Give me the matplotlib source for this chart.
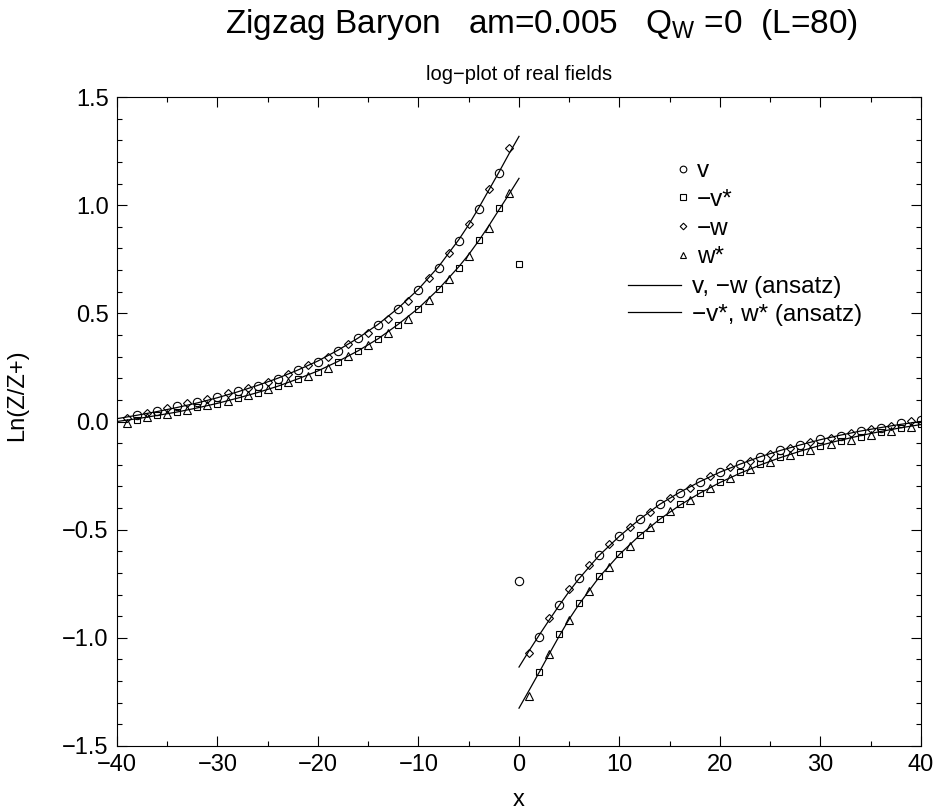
import numpy as np
import matplotlib
matplotlib.use('Agg')
import matplotlib.pyplot as plt
from matplotlib.ticker import MultipleLocator
from matplotlib.lines import Line2D

plt.rcParams['font.family'] = ['Liberation Sans', 'DejaVu Sans']
plt.rcParams['mathtext.fontset'] = 'custom'
plt.rcParams['mathtext.rm'] = 'Liberation Sans'

# data points, even sites (v, -v*) and odd sites (-w, w*)
even_x = np.arange(-38, 41, 2)
odd_x = np.arange(-39, 40, 2)

v_y = [0.030, 0.050, 0.071, 0.091, 0.113, 0.140, 0.166, 0.197, 0.236, 0.276,
       0.327, 0.384, 0.446, 0.518, 0.608, 0.711, 0.834, 0.981, 1.150,
       -0.737,
       -0.994, -0.848, -0.722, -0.617, -0.529, -0.452, -0.380, -0.329, -0.278, -0.235,
       -0.196, -0.163, -0.132, -0.109, -0.081, -0.066, -0.044, -0.029, -0.008, 0.007]
mvs_y = [0.008, 0.029, 0.044, 0.066, 0.081, 0.109, 0.132, 0.163, 0.196, 0.230,
         0.276, 0.327, 0.380, 0.446, 0.518, 0.611, 0.711, 0.839, 0.988,
         0.728,
         -1.156, -0.983, -0.840, -0.714, -0.612, -0.524, -0.452, -0.383, -0.329, -0.278,
         -0.235, -0.196, -0.165, -0.139, -0.112, -0.090, -0.070, -0.050, -0.031, -0.013]
mw_y = [0.015, 0.040, 0.061, 0.085, 0.104, 0.131, 0.154, 0.184, 0.220, 0.262,
        0.300, 0.358, 0.410, 0.472, 0.558, 0.662, 0.777, 0.911, 1.073, 1.262,
        -1.070, -0.909, -0.776, -0.663, -0.567, -0.486, -0.417, -0.355, -0.309, -0.252,
        -0.212, -0.181, -0.150, -0.121, -0.093, -0.075, -0.055, -0.035, -0.019, 0.002]
ws_y = [-0.006, 0.019, 0.035, 0.055, 0.075, 0.093, 0.121, 0.150, 0.181, 0.212,
        0.246, 0.303, 0.354, 0.410, 0.472, 0.561, 0.657, 0.765, 0.896, 1.055,
        -1.268, -1.074, -0.917, -0.783, -0.671, -0.575, -0.489, -0.414, -0.363, -0.309,
        -0.263, -0.221, -0.185, -0.155, -0.132, -0.105, -0.086, -0.062, -0.044, -0.024]

# ansatz curves (left and right of the source)
fit_x_left = [-40, -38, -36, -34, -32, -30, -28, -26, -24, -22, -20, -18, -16, -14,
              -12, -10, -8, -6, -5, -4, -3, -2, -1, 0]
fit_x_right = [0, 1, 2, 3, 4, 5, 6, 8, 10, 12, 14, 16, 18, 20, 22, 24, 26, 28, 30,
               32, 34, 36, 38, 40]
fit_a_left = [0.013, 0.029, 0.046, 0.065, 0.086, 0.110, 0.137, 0.167, 0.200, 0.238,
              0.280, 0.330, 0.386, 0.450, 0.525, 0.612, 0.716, 0.840, 0.910, 0.988,
              1.070, 1.152, 1.237, 1.318]
fit_a_right = [-1.135, -1.060, -0.988, -0.918, -0.850, -0.785, -0.725, -0.618, -0.530,
               -0.452, -0.383, -0.327, -0.278, -0.234, -0.197, -0.163, -0.134, -0.108,
               -0.084, -0.063, -0.044, -0.028, -0.013, 0.0]
fit_b_left = [0.0, 0.013, 0.028, 0.044, 0.063, 0.084, 0.108, 0.134, 0.163, 0.197,
              0.234, 0.278, 0.327, 0.383, 0.450, 0.524, 0.612, 0.715, 0.772, 0.836,
              0.905, 0.978, 1.050, 1.124]
fit_b_right = [-1.325, -1.243, -1.160, -1.075, -0.992, -0.913, -0.843, -0.718, -0.614,
               -0.527, -0.452, -0.387, -0.331, -0.282, -0.239, -0.201, -0.167, -0.137,
               -0.110, -0.086, -0.065, -0.046, -0.029, -0.014]

fig = plt.figure(figsize=(9.37, 8.11), dpi=100)
ax = fig.add_axes([117/937, 1 - 746/811, (921 - 117)/937, (746 - 97)/811])

lw = 0.9
mk = dict(ls='none', mfc='none', mec='black', mew=0.8)
ax.plot(even_x, v_y, marker='o', ms=6, **mk)
ax.plot(even_x, mvs_y, marker='s', ms=5, **mk)
ax.plot(odd_x, mw_y, marker='D', ms=4.2, **mk)
ax.plot(odd_x, ws_y, marker='^', ms=5.8, **mk)

ax.plot(fit_x_left, fit_a_left, color='black', lw=lw)
ax.plot(fit_x_right, fit_a_right, color='black', lw=lw)
ax.plot(fit_x_left, fit_b_left, color='black', lw=lw)
ax.plot(fit_x_right, fit_b_right, color='black', lw=lw)

ax.set_xlim(-40, 40)
ax.set_ylim(-1.5, 1.5)
ax.xaxis.set_major_locator(MultipleLocator(10))
ax.xaxis.set_minor_locator(MultipleLocator(5))
ax.yaxis.set_major_locator(MultipleLocator(0.5))
ax.yaxis.set_minor_locator(MultipleLocator(0.1))
ax.tick_params(which='both', direction='in', top=True, right=True, width=0.8,
               labelsize=17)
ax.tick_params(which='major', length=7, pad=6)
ax.tick_params(which='minor', length=3.5)
for s in ax.spines.values():
    s.set_linewidth(0.8)

# legends: symbols, then ansatz lines
sym_handles = [Line2D([], [], marker=m, ms=s, **mk)
               for m, s in [('o', 6), ('s', 5), ('D', 4.2), ('^', 5.8)]]
leg1 = ax.legend(sym_handles, ['v', '\u2212v*', '\u2212w', 'w*'],
                 loc='upper left', bbox_to_anchor=(673/937, 1 - 160/811),
                 bbox_transform=fig.transFigure, frameon=False, fontsize=17.5,
                 handlelength=0.8, handletextpad=0.18, labelspacing=0.28,
                 borderpad=0, borderaxespad=0, markerscale=0.8, numpoints=1)
ax.add_artist(leg1)
line_handles = [Line2D([], [], color='black', lw=lw) for _ in range(2)]
ax.legend(line_handles, ['v, \u2212w (ansatz)', '\u2212v*, w* (ansatz)'],
          loc='upper left', bbox_to_anchor=(628/937, 1 - 276/811),
          bbox_transform=fig.transFigure, frameon=False, fontsize=17.5,
          handlelength=2.2, handletextpad=0.44, labelspacing=0.23,
          borderpad=0, borderaxespad=0)

fig.text(541/937, 1 - 24/811, r'Zigzag Baryon   am=0.005   Q$_{\mathrm{W}}$ =0  (L=80)',
         ha='center', va='center', fontsize=24)
fig.text(519/937, 1 - 74/811, 'log\u2212plot of real fields', ha='center', va='center',
         fontsize=14.5)
fig.text(519/937, 1 - 800/811, 'x', ha='center', va='center', fontsize=17)
fig.text(17/937, 1 - 395/811, 'Ln(Z/Z+)', ha='center', va='center', fontsize=17,
         rotation=90)

fig.savefig('out.png', dpi=100)
